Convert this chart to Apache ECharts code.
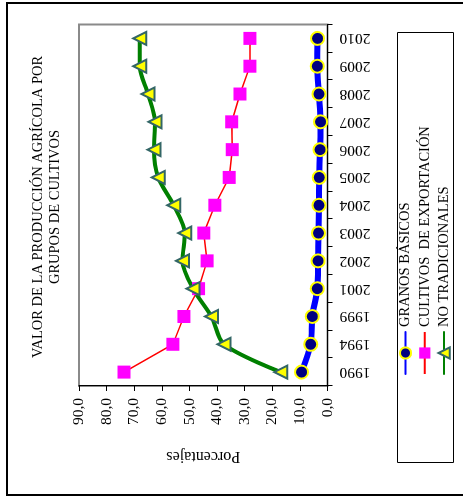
<!DOCTYPE html>
<html><head><meta charset="utf-8">
<script src="https://cdn.jsdelivr.net/npm/echarts@6/dist/echarts.min.js"></script>
<style>
html,body{margin:0;padding:0;background:#fff;overflow:hidden;width:463px;height:502px;}
#wrap{position:absolute;left:0;top:0;width:502px;height:463px;transform-origin:0 0;transform:translate(0,502px) rotate(-90deg);}
</style></head><body>
<div id="wrap"></div>
<script>
const years = ['1990','1994','1999','2001','2002','2003','2004','2005','2006','2007','2008','2009','2010'];
const granosBasicos = [9.4, 6.1, 5.5, 3.7, 3.4, 3.3, 3.1, 3.0, 2.7, 2.5, 3.1, 3.7, 3.6];
const cultivosExportacion = [73.7, 56.0, 52.0, 46.7, 43.6, 44.8, 40.8, 35.6, 34.5, 34.7, 31.7, 28.1, 28.1];
const noTradicionales = [16.9, 37.5, 42.0, 48.7, 52.5, 51.7, 55.7, 61.3, 62.8, 62.5, 65.0, 68.0, 68.0];
const seriesNames = ['GRANOS BÁSICOS', 'CULTIVOS  DE EXPORTACIÓN', 'NO TRADICIONALES'];
const titleText = 'VALOR DE LA PRODUCCIÓN AGRÍCOLA POR\nGRUPOS DE CULTIVOS';
const axisName = 'Porcentajes';

const FONT = "'Liberation Serif', 'Times New Roman', serif";
const chart = echarts.init(document.getElementById('wrap'), null, {renderer:'canvas', width:502, height:463});
chart.setOption({
  animation: false,
  backgroundColor: '#fff',
  title: {
    text: titleText,
    left: 295, top: 30, textAlign: 'center', padding: 0,
    textStyle: {fontFamily: FONT, fontSize: 14.5, fontWeight: 'normal', color: '#000', lineHeight: 17}
  },
  graphic: [
    {type:'rect', shape:{x:7, y:7, width:492, height:480}, style:{fill:'none', stroke:'#000', lineWidth:2}, silent:true},
    {type:'rect', shape:{x:39.5, y:397.5, width:430, height:56}, style:{fill:'none', stroke:'#000', lineWidth:1}, silent:true}
  ],
  legend: {
    orient: 'vertical', left: 127, top: 398, padding: 0,
    itemWidth: 42, itemHeight: 14, itemGap: 4.3,
    textStyle: {fontFamily: FONT, fontSize: 14.5, color: '#000', lineHeight: 14},
    data: seriesNames
  },
  grid: {left: 116, right: 24.5, top: 79, bottom: 135.5, show: true, borderColor: '#8a8a8a', borderWidth: 2, containLabel: false},
  xAxis: {
    type: 'category', data: years, boundaryGap: true,
    axisLine: {show: true, lineStyle: {color: '#000', width: 1}},
    axisTick: {show: true, length: 5, lineStyle: {color: '#000'}},
    axisLabel: {rotate: 90, margin: 12, fontFamily: FONT, fontSize: 15.5, color: '#000'},
    splitLine: {show: false}
  },
  yAxis: {
    type: 'value', min: 0, max: 90, interval: 10,
    axisLine: {show: true, lineStyle: {color: '#000', width: 1}},
    axisTick: {show: true, length: 5, lineStyle: {color: '#000'}},
    axisLabel: {margin: 12, fontFamily: FONT, fontSize: 15.5, color: '#000', formatter: v => v.toFixed(1).replace('.', ',')},
    splitLine: {show: false},
    name: axisName, nameLocation: 'middle', nameRotate: 90, nameGap: 62,
    nameTextStyle: {fontFamily: FONT, fontSize: 16, color: '#000'}
  },
  series: [
    {
      name: seriesNames[0], type: 'line', data: granosBasicos, smooth: 0.3,
      lineStyle: {color: '#0000ff', width: 6, cap: 'round'},
      symbol: 'circle', symbolSize: 13,
      itemStyle: {color: '#000080', borderColor: '#ffff00', borderWidth: 2}
    },
    {
      name: seriesNames[1], type: 'line', data: cultivosExportacion, smooth: false,
      lineStyle: {color: '#ff0000', width: 1.5},
      symbol: 'rect', symbolSize: 13,
      itemStyle: {color: '#ff00ff', borderWidth: 0}
    },
    {
      name: seriesNames[2], type: 'line', data: noTradicionales, smooth: 0.3,
      lineStyle: {color: '#008000', width: 4, cap: 'round'},
      symbol: 'triangle', symbolSize: 13,
      itemStyle: {color: '#ffff00', borderColor: '#336666', borderWidth: 2}
    }
  ]
});
</script>
</body></html>
